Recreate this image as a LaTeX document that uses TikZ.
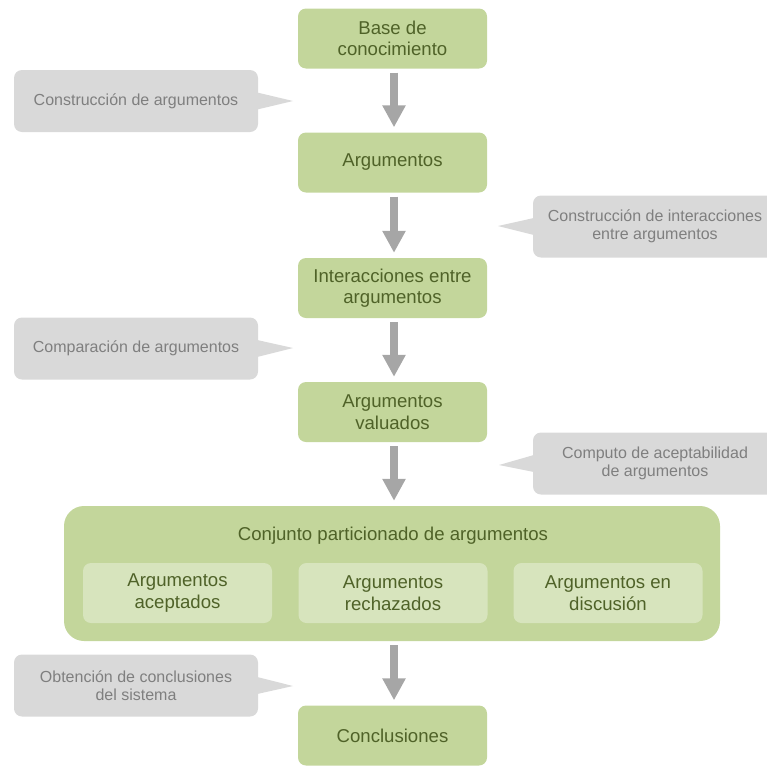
\documentclass[tikz,border=0pt]{standalone}
\usepackage{fontspec}
\setmainfont{Liberation Sans}
\usetikzlibrary{arrows.meta}
\definecolor{boxgreen}{HTML}{C3D69B}
\definecolor{boxtext}{HTML}{4F6228}
\definecolor{innergreen}{HTML}{D7E4BD}
\definecolor{callgray}{HTML}{D9D9D9}
\definecolor{calltext}{HTML}{7F7F7F}
\definecolor{arrowgray}{HTML}{A6A6A6}
\begin{document}
\begin{tikzpicture}[x=1pt,y=-1pt,
  mainbox/.style={rectangle, rounded corners=8pt, fill=boxgreen, text=boxtext,
    minimum width=189pt, minimum height=60pt, inner sep=0pt, align=center,
    font=\fontsize{18.6}{21.4}\selectfont},
  innerbox/.style={mainbox, fill=innergreen},
  titletext/.style={text=boxtext, inner sep=0pt, font=\fontsize{18.6}{21.4}\selectfont},
  callbox/.style={rectangle, rounded corners=8pt, fill=callgray, text=calltext,
    minimum width=244pt, minimum height=62pt, inner sep=0pt, align=center,
    font=\fontsize{16}{18.4}\selectfont},
  pointer/.style={fill=callgray},
  flowarrow/.style={draw=arrowgray, line width=8pt,
    -{Triangle[width=22pt,length=22pt]}, shorten <=4pt, shorten >=5pt}]
\useasboundingbox (0,0) rectangle (767,766);
\clip (0,0) rectangle (767,766);

% main column
\node[mainbox] (kb) at (392.5,38.5) {Base de\\conocimiento};
\node[mainbox] (args) at (392.5,162.5) {Argumentos};
\node[mainbox] (inter) at (392.5,288) {Interacciones entre\\argumentos};
\node[mainbox] (val) at (392.5,412) {Argumentos\\valuados};
\node[mainbox, rounded corners=20pt, minimum width=656pt, minimum height=135pt] (part) at (392,573.5) {};
\node[titletext, anchor=base] (parttitle) at (393,540) {Conjunto particionado de argumentos};
\node[innerbox] (acc) at (177.5,593) {Argumentos\\aceptados};
\node[innerbox] (rej) at (393,593) {Argumentos\\rechazados};
\node[innerbox] (dis) at (608,593) {Argumentos en\\discusión};
\node[mainbox] (concl) at (392.5,735.5) {Conclusiones};

% callouts
\node[callbox] (c1) at (136,101) {Construcción de argumentos};
\coordinate (t1) at (293,101);
\fill[pointer] ([xshift=-1pt,yshift=8.5pt]c1.east) -- (t1) -- ([xshift=-1pt,yshift=-8.5pt]c1.east) -- cycle;

\node[callbox] (c2) at (655,226.5) {Construcción de interacciones\\entre argumentos};
\coordinate (t2) at (498,226);
\fill[pointer] ([xshift=1pt,yshift=8.5pt]c2.west) -- (t2) -- ([xshift=1pt,yshift=-8.5pt]c2.west) -- cycle;

\node[callbox] (c3) at (136,348.5) {Comparación de argumentos};
\coordinate (t3) at (293,348);
\fill[pointer] ([xshift=-1pt,yshift=8.5pt]c3.east) -- (t3) -- ([xshift=-1pt,yshift=-8.5pt]c3.east) -- cycle;

\node[callbox] (c4) at (655,463.5) {Computo de aceptabilidad\\de argumentos};
\coordinate (t4) at (499,465);
\fill[pointer] ([xshift=1pt,yshift=8.5pt]c4.west) -- (t4) -- ([xshift=1pt,yshift=-8.5pt]c4.west) -- cycle;

\node[callbox] (c5) at (136,685.5) {Obtención de conclusiones\\del sistema};
\coordinate (t5) at (293,686);
\fill[pointer] ([xshift=-1pt,yshift=8.5pt]c5.east) -- (t5) -- ([xshift=-1pt,yshift=-8.5pt]c5.east) -- cycle;

% arrows
\draw[flowarrow] ([xshift=1.5pt]kb.south) -- ([xshift=1.5pt]args.north);
\draw[flowarrow] ([xshift=1.5pt]args.south) -- ([xshift=1.5pt]inter.north);
\draw[flowarrow] ([xshift=1.5pt]inter.south) -- ([xshift=1.5pt]val.north);
\draw[flowarrow] ([xshift=1.5pt]val.south) -- ([xshift=2pt]part.north);
\draw[flowarrow] ([xshift=2pt]part.south) -- ([xshift=1.5pt]concl.north);
\end{tikzpicture}
\end{document}
